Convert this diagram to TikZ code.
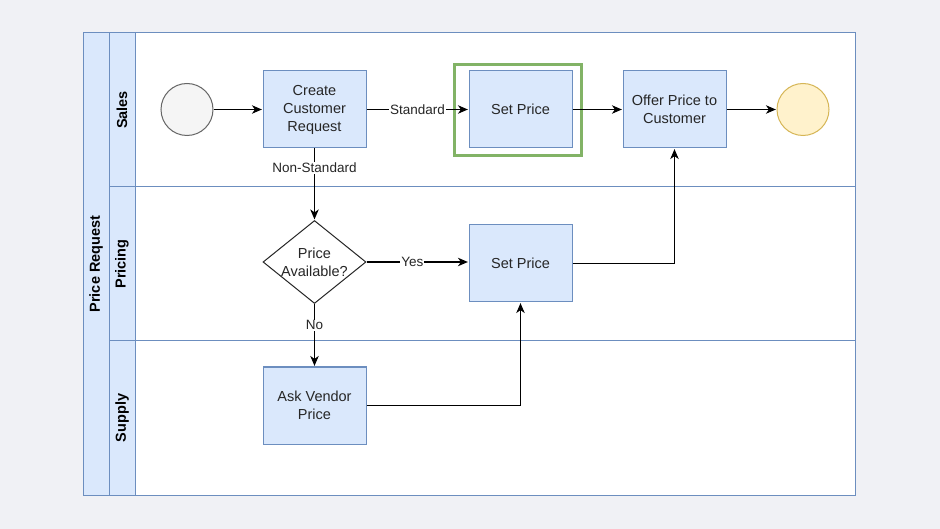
\documentclass[tikz,border=0pt]{standalone}
\usepackage{fontspec}
\setmainfont{Liberation Sans}
\usetikzlibrary{arrows.meta,shapes.geometric}

\definecolor{pageBg}{HTML}{F0F1F5}
\definecolor{laneFill}{HTML}{DAE8FC}
\definecolor{laneLine}{HTML}{6C8EBF}
\definecolor{markLine}{HTML}{82B366}
\definecolor{startFill}{HTML}{F5F5F5}
\definecolor{startLine}{HTML}{666666}
\definecolor{endFill}{HTML}{FFF2CC}
\definecolor{endLine}{HTML}{D6B656}
\definecolor{inkText}{HTML}{262626}

\begin{document}
\begin{tikzpicture}[x=1pt,y=-1pt,
    task/.style={draw=laneLine, fill=laneFill, rectangle, minimum width=103pt, minimum height=77pt, line width=1pt, align=center, text=inkText, font=\fontsize{14.5}{18}\selectfont},
    header/.style={draw=laneLine, fill=laneFill, rectangle, inner sep=0pt, line width=1pt},
    flow/.style={-{Stealth[length=10pt,width=8.5pt,inset=3pt]}, line width=1.1pt, draw=black, shorten >=0.6pt},
    lbl/.style={fill=white, inner sep=1pt, text=inkText, font=\fontsize{13.5}{16}\selectfont}]

      % Page and pool
      \fill[pageBg] (0,0) rectangle (940,529);
      \useasboundingbox (0,0) rectangle (940,529);
      \draw[draw=laneLine, fill=white, line width=1pt] (83,33) rectangle (855,495);
      \node[header, minimum width=26pt, minimum height=462pt] (pool) at (96,264) {};
      \node[rotate=90, font=\bfseries\fontsize{14.5}{17}\selectfont] (poolname) at (pool.center) {Price Request};

      % Lanes
      \draw[draw=laneLine, line width=1pt] (109,187) -- (855,187);
      \draw[draw=laneLine, line width=1pt] (109,341) -- (855,341);
      \node[header, minimum width=26pt, minimum height=154pt] (sales) at (122,110) {};
      \node[header, minimum width=26pt, minimum height=154pt] (pricing) at (122,264) {};
      \node[header, minimum width=26pt, minimum height=154pt] (supply) at (122,418) {};
      \node[rotate=90, font=\bfseries\fontsize{14.5}{17}\selectfont] (salesname) at (sales.center) {Sales};
      \node[rotate=90, font=\bfseries\fontsize{14.5}{17}\selectfont] (pricingname) at (pricing.center) {Pricing};
      \node[rotate=90, font=\bfseries\fontsize{14.5}{17}\selectfont] (supplyname) at (supply.center) {Supply};

      % Events
      \node[draw=startLine, fill=startFill, circle, minimum size=52pt, line width=1pt] (start) at (187,109.5) {};
      \node[draw=endLine, fill=endFill, circle, minimum size=52pt, line width=1pt] (finish) at (803,109.5) {};

      % Tasks
      \node[task] (create) at (314.5,109.5) {Create\\Customer\\Request};
      \node[task] (quote) at (520.5,109.5) {Set Price};
      \node[task] (offer) at (674.5,109.5) {Offer Price to\\Customer};
      \node[task] (priced) at (520.5,263.5) {Set Price};
      \node[task] (vendor) at (314.5,405.5) {Ask Vendor\\Price};
      \node[draw=black!85, fill=white, diamond, minimum width=103pt, minimum height=83pt, inner sep=0pt, line width=1pt,
        label={[align=center, text=inkText, font=\fontsize{14.5}{18}\selectfont]center:Price\\Available?}] (check) at (314.5,262) {};

      % Highlight
      \node[draw=markLine, line width=3pt, rectangle, minimum width=127pt, minimum height=91pt] (mark) at (517.5,110) {};

      % Arrows
      \draw[flow] (start) -- (create);
      \draw[flow] (create) -- node[lbl] {Standard} (quote);
      \draw[flow] (quote) -- (offer);
      \draw[flow] (offer) -- (finish);
      \draw[flow] (create) -- node[lbl, pos=0.27] {Non-Standard} (check);
      \draw[flow] (check) -- node[lbl, pos=0.45] {Yes} (check -| priced.west);
      \draw[flow] (check) -- node[lbl, pos=0.34] {No} (vendor);
      \draw[flow] (vendor) -| (priced);
      \draw[flow] (priced) -| (offer);
    \end{tikzpicture}
\end{document}
